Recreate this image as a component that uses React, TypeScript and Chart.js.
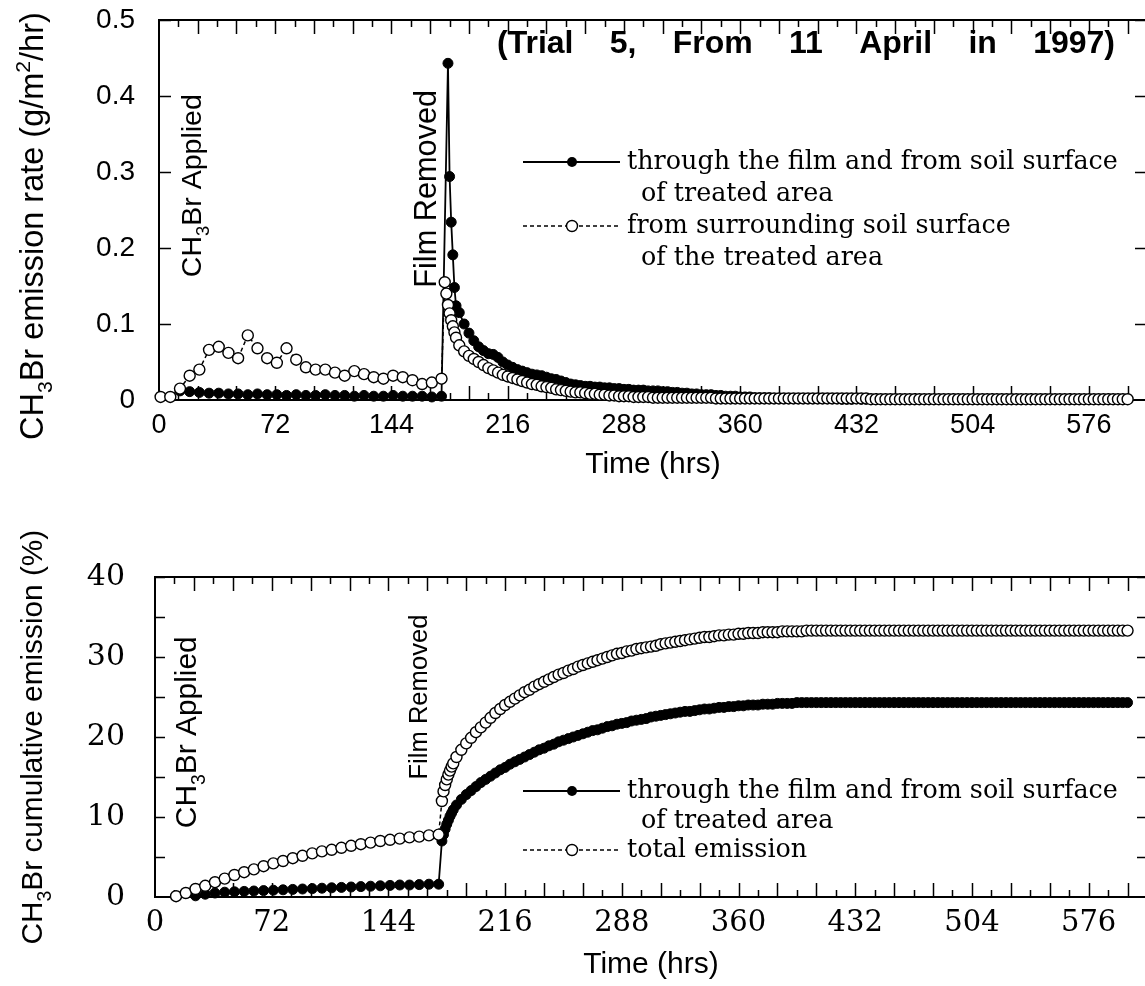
import React, { useEffect, useRef } from 'react';
import { Chart, registerables } from 'chart.js';

Chart.register(...registerables);

// ---------------- time bases (hours after application) ----------------
const preHours = [1, 7, 13, 19, 25, 31, 37, 43, 49, 55, 61, 67, 73, 79, 85, 91, 97, 103, 109, 115, 121, 127, 133, 139, 145, 151, 157, 163, 169, 175];
const removalHours = [177, 178, 179, 180, 181, 182, 183, 184];
const postHours = [
  186, 189, 192, 195, 198, 201, 204, 207, 210, 213,
  216, 219, 222, 225, 228, 231, 234, 237, 240, 243,
  246, 249, 252, 255, 258, 261, 264, 267, 270, 273,
  276, 279, 282, 285, 288, 291, 294, 297, 300, 303,
  306, 309, 312, 315, 318, 321, 324, 327, 330, 333,
  336, 339, 342, 345, 348, 351, 354, 357, 360, 363,
  366, 369, 372, 375, 378, 381, 384, 387, 390, 393,
  396, 399, 402, 405, 408, 411, 414, 417, 420, 423,
  426, 429, 432, 435, 438, 441, 444, 447, 450, 453,
  456, 459, 462, 465, 468, 471, 474, 477, 480, 483,
  486, 489, 492, 495, 498, 501, 504, 507, 510, 513,
  516, 519, 522, 525, 528, 531, 534, 537, 540, 543,
  546, 549, 552, 555, 558, 561, 564, 567, 570, 573,
  576, 579, 582, 585, 588, 591, 594, 597, 600,
];

// ---------------- emission rate (g/m2/hr) ----------------
const rateFilmPre = [null, null, 0.012, 0.011, 0.010, 0.009, 0.009, 0.008, 0.008, 0.007, 0.008, 0.007, 0.007, 0.006, 0.007, 0.006, 0.006, 0.007, 0.006, 0.006, 0.005, 0.006, 0.005, 0.005, 0.006, 0.005, 0.005, 0.005, 0.004, 0.005];
const rateFilmRemoval = [null, null, 0.443, 0.294, 0.234, 0.191, 0.148, 0.124];
const rateFilmPost = [
  0.115, 0.100, 0.088, 0.078, 0.070, 0.065, 0.061, 0.060, 0.056, 0.050,
  0.046, 0.043, 0.040, 0.038, 0.036, 0.034, 0.033, 0.032, 0.030, 0.028,
  0.027, 0.025, 0.023, 0.021, 0.020, 0.019, 0.018, 0.018, 0.017, 0.017,
  0.016, 0.016, 0.015, 0.015, 0.014, 0.014, 0.013, 0.013, 0.013, 0.012,
  0.012, 0.012, 0.011, 0.011, 0.010, 0.010, 0.009, 0.009, 0.008, 0.008,
  0.007, 0.007, 0.007, 0.006, 0.006, 0.005, 0.005, 0.005, 0.004, 0.004,
  0.004, 0.003, 0.003, 0.003, 0.003, 0.002, 0.002, 0.002, 0.002, 0.002,
  0.002, 0.002, 0.002, 0.002, 0.002, 0.002, 0.002, 0.002, 0.002, 0.001,
  0.001, 0.001, 0.002, 0.001, 0.001, 0.001, 0.001, 0.001, 0.001, 0.001,
  0.001, 0.001, 0.001, 0.001, 0.001, 0.001, 0.001, 0.001, 0.001, 0.001,
  0.001, 0.001, 0.001, 0.001, 0.001, 0.001, 0.001, 0.001, 0.001, 0.001,
  0.001, 0.001, 0.001, 0.001, 0.001, 0.001, 0.001, 0.001, 0.001, 0.001,
  0.001, 0.001, 0.001, 0.001, 0.001, 0.001, 0.001, 0.001, 0.001, 0.001,
  0.001, 0.001, 0.001, 0.001, 0.001, 0.001, 0.001, 0.001, 0.001,
];
const rateOpenPre = [0.004, 0.004, 0.015, 0.032, 0.040, 0.066, 0.070, 0.062, 0.055, 0.085, 0.068, 0.055, 0.049, 0.068, 0.053, 0.043, 0.040, 0.040, 0.036, 0.032, 0.038, 0.034, 0.030, 0.028, 0.032, 0.030, 0.026, 0.021, 0.023, 0.028];
const rateOpenRemoval = [0.155, 0.140, 0.125, 0.114, 0.105, 0.097, 0.089, 0.082];
const rateOpenPost = [
  0.072, 0.064, 0.058, 0.054, 0.050, 0.046, 0.042, 0.039, 0.036, 0.033,
  0.031, 0.029, 0.027, 0.025, 0.023, 0.021, 0.020, 0.018, 0.017, 0.016,
  0.014, 0.013, 0.012, 0.011, 0.010, 0.010, 0.009, 0.008, 0.008, 0.007,
  0.007, 0.006, 0.006, 0.005, 0.005, 0.005, 0.004, 0.004, 0.004, 0.004,
  0.003, 0.003, 0.003, 0.003, 0.003, 0.003, 0.003, 0.003, 0.003, 0.003,
  0.003, 0.003, 0.003, 0.002, 0.002, 0.002, 0.002, 0.002, 0.002, 0.002,
  0.002, 0.002, 0.002, 0.002, 0.002, 0.002, 0.002, 0.002, 0.002, 0.002,
  0.002, 0.002, 0.002, 0.002, 0.002, 0.002, 0.002, 0.002, 0.002, 0.002,
  0.002, 0.002, 0.002, 0.002, 0.002, 0.001, 0.001, 0.001, 0.001, 0.001,
  0.001, 0.001, 0.001, 0.001, 0.001, 0.001, 0.001, 0.001, 0.001, 0.001,
  0.001, 0.001, 0.001, 0.001, 0.001, 0.001, 0.001, 0.001, 0.001, 0.001,
  0.001, 0.001, 0.001, 0.001, 0.001, 0.001, 0.001, 0.001, 0.001, 0.001,
  0.001, 0.001, 0.001, 0.001, 0.001, 0.001, 0.001, 0.001, 0.001, 0.001,
  0.001, 0.001, 0.001, 0.001, 0.001, 0.001, 0.001, 0.001, 0.001,
];

// ---------------- cumulative emission (%) ----------------
const cumFilmPre = [null, null, null, null, 0.15, 0.35, 0.5, 0.6, 0.65, 0.7, 0.75, 0.8, 0.85, 0.9, 0.95, 1.0, 1.05, 1.1, 1.15, 1.2, 1.25, 1.3, 1.35, 1.4, 1.45, 1.5, 1.5, 1.55, 1.6, 1.6];
const cumFilmRemoval = [7.0, 7.8, 8.5, 9.1, 9.6, 10.1, 10.5, 10.9];
const cumFilmPost = [
  11.5, 12.2, 12.8, 13.3, 13.8, 14.3, 14.7, 15.1, 15.5, 15.9,
  16.2, 16.6, 16.9, 17.2, 17.5, 17.8, 18.1, 18.4, 18.6, 18.9,
  19.1, 19.4, 19.6, 19.8, 20.0, 20.2, 20.4, 20.6, 20.8, 20.9,
  21.1, 21.3, 21.4, 21.6, 21.7, 21.8, 22.0, 22.1, 22.2, 22.3,
  22.5, 22.6, 22.7, 22.8, 22.9, 23.0, 23.1, 23.2, 23.2, 23.3,
  23.4, 23.5, 23.5, 23.6, 23.7, 23.7, 23.8, 23.8, 23.9, 23.9,
  24.0, 24.0, 24.0, 24.1, 24.1, 24.1, 24.2, 24.2, 24.2, 24.2,
  24.3, 24.3, 24.3, 24.3, 24.3, 24.3, 24.3, 24.3, 24.3, 24.3,
  24.3, 24.3, 24.3, 24.3, 24.3, 24.3, 24.3, 24.3, 24.3, 24.3,
  24.3, 24.3, 24.3, 24.3, 24.3, 24.3, 24.3, 24.3, 24.3, 24.3,
  24.3, 24.3, 24.3, 24.3, 24.3, 24.3, 24.3, 24.3, 24.3, 24.3,
  24.3, 24.3, 24.3, 24.3, 24.3, 24.3, 24.3, 24.3, 24.3, 24.3,
  24.3, 24.3, 24.3, 24.3, 24.3, 24.3, 24.3, 24.3, 24.3, 24.3,
  24.3, 24.3, 24.3, 24.3, 24.3, 24.3, 24.3, 24.3, 24.3,
];
const cumTotalPre = [null, null, 0.1, 0.5, 1.0, 1.4, 1.85, 2.3, 2.75, 3.1, 3.45, 3.85, 4.2, 4.5, 4.85, 5.15, 5.45, 5.7, 5.9, 6.15, 6.4, 6.6, 6.8, 7.0, 7.15, 7.3, 7.45, 7.55, 7.7, 7.8];
const cumTotalRemoval = [12.0, 13.2, 14.0, 14.7, 15.3, 15.8, 16.3, 16.7];
const cumTotalPost = [
  17.5, 18.4, 19.2, 19.9, 20.6, 21.2, 21.8, 22.4, 23.0, 23.5,
  24.0, 24.4, 24.8, 25.2, 25.6, 25.9, 26.3, 26.6, 26.9, 27.2,
  27.5, 27.8, 28.0, 28.3, 28.5, 28.8, 29.0, 29.2, 29.4, 29.6,
  29.8, 30.0, 30.2, 30.4, 30.5, 30.7, 30.8, 31.0, 31.1, 31.2,
  31.3, 31.4, 31.6, 31.7, 31.8, 31.9, 32.0, 32.1, 32.2, 32.3,
  32.4, 32.5, 32.5, 32.6, 32.7, 32.7, 32.8, 32.8, 32.9, 32.9,
  33.0, 33.0, 33.0, 33.1, 33.1, 33.1, 33.1, 33.2, 33.2, 33.2,
  33.2, 33.2, 33.3, 33.3, 33.3, 33.3, 33.3, 33.3, 33.3, 33.3,
  33.3, 33.3, 33.3, 33.3, 33.3, 33.3, 33.3, 33.3, 33.3, 33.3,
  33.3, 33.3, 33.3, 33.3, 33.3, 33.3, 33.3, 33.3, 33.3, 33.3,
  33.3, 33.3, 33.3, 33.3, 33.3, 33.3, 33.3, 33.3, 33.3, 33.3,
  33.3, 33.3, 33.3, 33.3, 33.3, 33.3, 33.3, 33.3, 33.3, 33.3,
  33.3, 33.3, 33.3, 33.3, 33.3, 33.3, 33.3, 33.3, 33.3, 33.3,
  33.3, 33.3, 33.3, 33.3, 33.3, 33.3, 33.3, 33.3, 33.3,
];

// ---------------- axis ticks ----------------
const hourTicks = [0, 72, 144, 216, 288, 360, 432, 504, 576];
const rateTicks = [0, 0.1, 0.2, 0.3, 0.4, 0.5];
const cumTicks = [0, 10, 20, 30, 40];

// ---------------- layout ----------------
const W = 1165;
const TOP_H = 486;
const BOT_H = 500;
const X_MAX = 612;
const SANS = '"Liberation Sans", Arial, sans-serif';
const SERIF_TICK = '"DejaVu Serif", serif';
const SERIF_LEG = '"DejaVu Serif", serif';

type Seg = { t: string; s?: 'sub' | 'sup' };

function toPoints(hours: number[][], vals: (number | null)[][]) {
  const out: { x: number; y: number }[] = [];
  hours.forEach((hs, i) => hs.forEach((h, j) => {
    const v = vals[i][j];
    if (v !== null && v !== undefined) out.push({ x: h, y: v });
  }));
  return out;
}

function richWidth(ctx: CanvasRenderingContext2D, segs: Seg[], size: number, family: string) {
  let w = 0;
  for (const s of segs) {
    ctx.font = `${s.s ? size * 0.65 : size}px ${family}`;
    w += ctx.measureText(s.t).width;
  }
  return w;
}

function drawRich(ctx: CanvasRenderingContext2D, segs: Seg[], cx: number, cy: number, length: number, family: string, rotate: boolean) {
  const size = 20 * length / richWidth(ctx, segs, 20, family);
  ctx.save();
  ctx.translate(cx, cy);
  if (rotate) ctx.rotate(-Math.PI / 2);
  ctx.fillStyle = '#000';
  ctx.textAlign = 'left';
  ctx.textBaseline = 'alphabetic';
  let x = -length / 2;
  const base = size * 0.36;
  for (const s of segs) {
    const fs = s.s ? size * 0.65 : size;
    ctx.font = `${fs}px ${family}`;
    const dy = s.s === 'sub' ? size * 0.3 : s.s === 'sup' ? -size * 0.4 : 0;
    ctx.fillText(s.t, x, base + dy);
    x += ctx.measureText(s.t).width;
  }
  ctx.restore();
}

type LegendRow = { y: number; text: string; marker?: 'film' | 'open'; indent?: number };
type Decor = {
  xMinor: number; xMajor: number; yStep: number; yTickLen: number;
  yTitle: { segs: Seg[]; x: number; y: number; length: number };
  title?: { words: string[]; x: number; y: number; width: number; font: string };
  notes: { segs: Seg[]; t: number; v: number; length: number }[];
  legend: { x1: number; x2: number; mx: number; textX: number; fitWidth: number; rows: LegendRow[] };
};

function openMarker(ctx: CanvasRenderingContext2D, x: number, y: number) {
  ctx.beginPath();
  ctx.arc(x, y, 5.5, 0, Math.PI * 2);
  ctx.fillStyle = '#fff';
  ctx.fill();
  ctx.lineWidth = 1.4;
  ctx.strokeStyle = '#000';
  ctx.stroke();
}
function filmMarker(ctx: CanvasRenderingContext2D, x: number, y: number) {
  ctx.beginPath();
  ctx.arc(x, y, 5, 0, Math.PI * 2);
  ctx.fillStyle = '#000';
  ctx.fill();
}

function makeDecor(cfg: Decor) {
  return {
    id: 'decor',
    beforeDatasetsDraw(chart: any) {
      const { ctx, chartArea: { left, right, top, bottom }, scales: { x, y } } = chart;
      ctx.save();
      ctx.strokeStyle = '#000';
      ctx.lineWidth = 2;
      ctx.strokeRect(left, top, right - left, bottom - top);
      ctx.lineWidth = 1.5;
      ctx.beginPath();
      for (let h = cfg.xMinor; h < x.max; h += cfg.xMinor) {
        const px = Math.round(x.getPixelForValue(h)) + 0.5;
        const len = h % cfg.xMajor === 0 ? 14 : 7;
        ctx.moveTo(px, bottom); ctx.lineTo(px, bottom - len);
        ctx.moveTo(px, top); ctx.lineTo(px, top + len);
      }
      for (let v = cfg.yStep; v < y.max + 1e-9; v += cfg.yStep) {
        const py = Math.round(y.getPixelForValue(v)) + 0.5;
        ctx.moveTo(left, py); ctx.lineTo(left + cfg.yTickLen, py);
        ctx.moveTo(right, py); ctx.lineTo(right - cfg.yTickLen, py);
      }
      ctx.stroke();
      ctx.restore();
    },
    afterDatasetsDraw(chart: any) {
      const { ctx, scales: { x, y } } = chart;
      ctx.save();
      drawRich(ctx, cfg.yTitle.segs, cfg.yTitle.x, cfg.yTitle.y, cfg.yTitle.length, SANS, true);
      for (const n of cfg.notes) {
        drawRich(ctx, n.segs, x.getPixelForValue(n.t), y.getPixelForValue(n.v), n.length, SANS, true);
      }
      if (cfg.title) {
        const t = cfg.title;
        ctx.font = t.font;
        ctx.fillStyle = '#000';
        ctx.textBaseline = 'middle';
        ctx.textAlign = 'left';
        const ws = t.words.map((w) => ctx.measureText(w).width);
        const gap = (t.width - ws.reduce((a, b) => a + b, 0)) / (t.words.length - 1);
        let cx = t.x;
        t.words.forEach((w, i) => { ctx.fillText(w, cx, t.y); cx += ws[i] + gap; });
      }
      const L = cfg.legend;
      ctx.font = `20px ${SERIF_LEG}`;
      const fs = 20 * L.fitWidth / ctx.measureText(L.rows[0].text).width;
      for (const r of L.rows) {
        if (r.marker) {
          ctx.beginPath();
          ctx.strokeStyle = '#000';
          if (r.marker === 'open') { ctx.setLineDash([4, 3]); ctx.lineWidth = 1.6; } else { ctx.setLineDash([]); ctx.lineWidth = 2; }
          ctx.moveTo(L.x1, r.y); ctx.lineTo(L.x2, r.y);
          ctx.stroke();
          ctx.setLineDash([]);
          if (r.marker === 'open') openMarker(ctx, L.mx, r.y); else filmMarker(ctx, L.mx, r.y);
        }
        ctx.font = `${fs}px ${SERIF_LEG}`;
        ctx.fillStyle = '#000';
        ctx.textAlign = 'left';
        ctx.textBaseline = 'middle';
        ctx.fillText(r.text, L.textX + (r.indent || 0), r.y);
      }
      ctx.restore();
    },
  };
}

function openDataset(data: { x: number; y: number }[]) {
  return {
    data, showLine: true, clip: false as const,
    borderColor: '#000', borderWidth: 1.5, borderDash: [4, 3],
    pointRadius: 5.5, pointBackgroundColor: '#fff', pointBorderColor: '#000', pointBorderWidth: 1.4,
  };
}
function filmDataset(data: { x: number; y: number }[]) {
  return {
    data, showLine: true, clip: false as const,
    borderColor: '#000', borderWidth: 1.8,
    pointRadius: 5, pointBackgroundColor: '#000', pointBorderColor: '#000', pointBorderWidth: 1,
  };
}

function baseOptions(p: {
  top: number; left: number; right: number; bottom: number; h: number;
  yMax: number; yTicks: number[]; yFmt: (v: number) => string;
  tickFont: string; tickSize: number; yPad: number; xPad: number; titlePad: number;
}) {
  return {
    responsive: false,
    animation: false as const,
    events: [] as any[],
    layout: { padding: { left: 0, top: p.top, right: W - p.right, bottom: 0 } },
    plugins: { legend: { display: false }, tooltip: { enabled: false }, title: { display: false } },
    scales: {
      x: {
        type: 'linear' as const, min: 0, max: X_MAX,
        grid: { display: false, drawTicks: false }, border: { display: false },
        afterBuildTicks: (s: any) => { s.ticks = hourTicks.map((v) => ({ value: v })); },
        afterFit: (s: any) => { s.height = p.h - p.bottom; s.paddingLeft = 0; s.paddingRight = 0; },
        ticks: { color: '#000', padding: p.xPad, maxRotation: 0, autoSkip: false, font: { family: p.tickFont, size: p.tickSize }, callback: (v: any) => String(v) },
        title: { display: true, text: 'Time (hrs)', color: '#000', font: { family: SANS, size: 30 }, padding: { top: 0, bottom: p.titlePad } },
      },
      y: {
        type: 'linear' as const, min: 0, max: p.yMax,
        grid: { display: false, drawTicks: false }, border: { display: false },
        afterBuildTicks: (s: any) => { s.ticks = p.yTicks.map((v) => ({ value: v })); },
        afterFit: (s: any) => { s.width = p.left; s.paddingTop = 0; s.paddingBottom = 0; },
        ticks: { color: '#000', padding: p.yPad, font: { family: p.tickFont, size: p.tickSize + 1 }, callback: (v: any) => p.yFmt(Number(v)) },
      },
    },
  };
}

const CH3BR: Seg[] = [{ t: 'CH' }, { t: '3', s: 'sub' }, { t: 'Br' }];

export default function App() {
  const topRef = useRef<HTMLCanvasElement>(null);
  const botRef = useRef<HTMLCanvasElement>(null);

  useEffect(() => {
    const hoursAll = [preHours, removalHours, postHours];
    const topChart = new Chart(topRef.current as HTMLCanvasElement, {
      type: 'scatter',
      data: {
        datasets: [
          openDataset(toPoints(hoursAll, [rateOpenPre, rateOpenRemoval, rateOpenPost])),
          filmDataset(toPoints(hoursAll, [rateFilmPre, rateFilmRemoval, rateFilmPost])),
        ] as any,
      },
      options: baseOptions({
        top: 20, left: 159, right: 1147, bottom: 400, h: TOP_H,
        yMax: 0.5, yTicks: rateTicks, yFmt: (v) => (v === 0 ? '0' : v.toFixed(1)),
        tickFont: SANS, tickSize: 27, yPad: 24, xPad: 9, titlePad: 3,
      }) as any,
      plugins: [makeDecor({
        xMinor: 12, xMajor: 24, yStep: 0.1, yTickLen: 12,
        yTitle: { segs: [...CH3BR, { t: ' emission rate (g/m' }, { t: '2', s: 'sup' }, { t: '/hr)' }], x: 31, y: 226, length: 428 },
        title: { words: ['(Trial', '5,', 'From', '11', 'April', 'in', '1997)'], x: 497, y: 44, width: 618, font: `bold 32px ${SANS}` },
        notes: [
          { segs: [...CH3BR, { t: ' Applied' }], t: 19.4, v: 0.282, length: 183 },
          { segs: [{ t: 'Film Removed' }], t: 165, v: 0.278, length: 198 },
        ],
        legend: {
          x1: 523, x2: 620, mx: 572, textX: 627, fitWidth: 491,
          rows: [
            { y: 162, text: 'through the film and from soil surface', marker: 'film' },
            { y: 194, text: 'of treated area', indent: 14 },
            { y: 226, text: 'from surrounding soil surface', marker: 'open' },
            { y: 258, text: 'of the treated area', indent: 14 },
          ],
        },
      }) as any],
    });

    const botChart = new Chart(botRef.current as HTMLCanvasElement, {
      type: 'scatter',
      data: {
        datasets: [
          openDataset(toPoints(hoursAll, [cumTotalPre, cumTotalRemoval, cumTotalPost])),
          filmDataset(toPoints(hoursAll, [cumFilmPre, cumFilmRemoval, cumFilmPost])),
        ] as any,
      },
      options: baseOptions({
        top: 577 - TOP_H, left: 155, right: 1147, bottom: 897 - TOP_H, h: BOT_H,
        yMax: 40, yTicks: cumTicks, yFmt: (v) => String(v),
        tickFont: SERIF_TICK, tickSize: 29, yPad: 30, xPad: 9, titlePad: 3,
      }) as any,
      plugins: [makeDecor({
        xMinor: 12, xMajor: 24, yStep: 5, yTickLen: 10,
        yTitle: { segs: [...CH3BR, { t: ' cumulative emission (%)' }], x: 31, y: 737 - TOP_H, length: 415 },
        notes: [
          { segs: [...CH3BR, { t: ' Applied' }], t: 18.7, v: 20.6, length: 192 },
          { segs: [{ t: 'Film Removed' }], t: 162, v: 25.0, length: 165 },
        ],
        legend: {
          x1: 523, x2: 620, mx: 572, textX: 627, fitWidth: 491,
          rows: [
            { y: 791 - TOP_H, text: 'through the film and from soil surface', marker: 'film' },
            { y: 821 - TOP_H, text: 'of treated area', indent: 14 },
            { y: 850 - TOP_H, text: 'total emission', marker: 'open' },
          ],
        },
      }) as any],
    });

    return () => { topChart.destroy(); botChart.destroy(); };
  }, []);

  return (
    <div style={{ position: 'absolute', left: 0, top: 0, width: 1145, height: 986, overflow: 'hidden', background: '#fff' }}>
      <canvas ref={topRef} width={W} height={TOP_H} style={{ position: 'absolute', left: 0, top: 0, width: W, height: TOP_H }} />
      <canvas ref={botRef} width={W} height={BOT_H} style={{ position: 'absolute', left: 0, top: TOP_H, width: W, height: BOT_H }} />
    </div>
  );
}
